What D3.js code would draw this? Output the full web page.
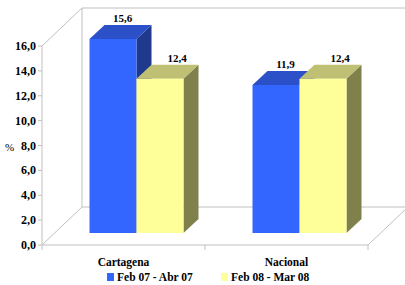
<!DOCTYPE html>
<html><head><meta charset="utf-8">
<script src="https://cdn.jsdelivr.net/npm/d3@7"></script>
</head><body><svg id="c" width="405" height="285"></svg>
<script>
const categories = ["Cartagena", "Nacional"];
const seriesNames = ["Feb 07 - Abr 07", "Feb 08 - Mar 08"];
const serie1 = [15.6, 11.9];
const serie2 = [12.4, 12.4];
const valueLabels1 = ["15,6", "11,9"];
const valueLabels2 = ["12,4", "12,4"];
const yTicks = [0, 2, 4, 6, 8, 10, 12, 14, 16];
const yTickLabels = ["0,0", "2,0", "4,0", "6,0", "8,0", "10,0", "12,0", "14,0", "16,0"];

const colors = [
  {front: "#3366FF", top: "#2B50C8", side: "#1F3A8C"},
  {front: "#FFFF99", top: "#C0C074", side: "#80804C"}
];
const FONT = "'Liberation Serif'";
const labelShift = [2, 9.5];

d3.select("body").style("margin", "0px").style("background", "#fff");
const svg = d3.select("#c").style("display", "block");
const y = d3.scaleLinear().domain([0, 16]).range([245, 46]);
const x0 = d3.scaleBand().domain(categories).range([42, 368]).padding(0);
const x1 = d3.scaleBand().domain(seriesNames).range([34.5, 128.5]).padding(0);

const DX = 40, DY = -38;
const OX = 13, OY = -12;
const BX = 15, BY = -14;

const grid = "#C0C0C0";
const g = svg.append("g");
const left = 42, right = 368, yTop = y(16), yBot = y(0);

function line(x1_, y1_, x2_, y2_) {
  g.append("line").attr("x1", x1_).attr("y1", y1_).attr("x2", x2_).attr("y2", y2_)
    .attr("stroke", grid).attr("stroke-width", 1);
}
function txt(x, yy, s, size, bold, anchor) {
  return g.append("text").attr("x", x).attr("y", yy).attr("text-anchor", anchor || "start")
    .attr("font-family", "Liberation Serif")
    .style("font-family", FONT).style("font-weight", bold ? "bold" : "normal")
    .style("font-size", size + "px").attr("fill", "#000").text(s);
}
line(left + DX, yTop + DY, 405, yTop + DY);
line(left + DX, yBot + DY, right + DX, yBot + DY);
line(left + DX, yTop + DY, left + DX, yBot + DY);
line(left, yTop, left + DX, yTop + DY);
line(left, yBot, left + DX, yBot + DY);
line(right, yBot, right + DX, yBot + DY);
line(left, yBot, right, yBot);
line(left, yTop, left, yBot);

yTicks.forEach((t, i) => {
  line(left - 4, y(t), left, y(t));
  txt(36, y(t) + 4, yTickLabels[i], 12, true, "end");
});
[left, x0("Nacional"), right].forEach(v => line(v, yBot, v, yBot + 5));

txt(5, 151, "%", 11, false);

const data = [serie1, serie2];
const labels = [valueLabels1, valueLabels2];
categories.forEach((cat, ci) => {
  seriesNames.forEach((s, si) => {
    const v = data[si][ci];
    const xl = x0(cat) + x1(s) + OX;
    const w = x1.bandwidth();
    const yb = y(0) + OY;
    const yt = y(v) + OY;
    const c = colors[si];
    g.append("path").attr("d", `M${xl + w},${yt}L${xl + w + BX},${yt + BY}L${xl + w + BX},${yb + BY}L${xl + w},${yb}Z`)
      .attr("fill", c.side);
    g.append("path").attr("d", `M${xl},${yt}L${xl + BX},${yt + BY}L${xl + w + BX},${yt + BY}L${xl + w},${yt}Z`)
      .attr("fill", c.top);
    g.append("rect").attr("x", xl).attr("y", yt).attr("width", w).attr("height", yb - yt)
      .attr("fill", c.front);
    txt(xl + w / 2 + BX / 2 + labelShift[si], yt + BY - 3, labels[si][ci], 11, true, "middle");
  });
  txt(x0(cat) + x0.bandwidth() / 2, 266, cat, 11.5, true, "middle");
});

const legX = [107, 221];
seriesNames.forEach((s, i) => {
  g.append("rect").attr("x", legX[i]).attr("y", 273).attr("width", 7).attr("height", 8)
    .attr("fill", colors[i].front);
  txt(legX[i] + 10, 281, s, 11.5, true);
});
</script></body></html>
